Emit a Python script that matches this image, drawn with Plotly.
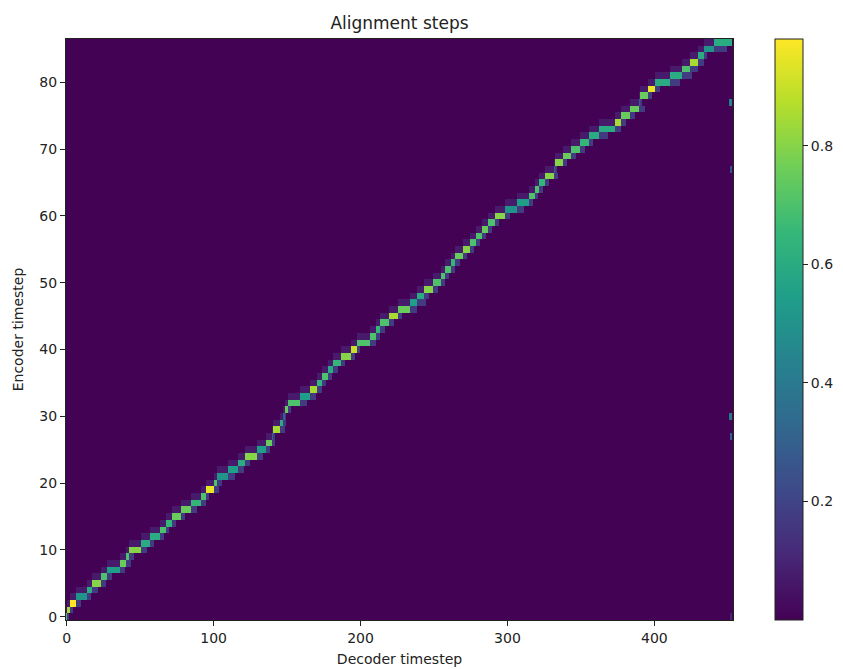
import numpy as np
import plotly.graph_objects as go

# ---- data ----
n_decoder = 454
n_encoder = 87
# per encoder step: decoder range where attention sits, its intensity, and where its faint trail ends
dec_start = [0, 1, 3, 7, 14, 18, 24, 28, 37, 41, 43, 51, 57, 64, 68, 72, 78, 85, 92, 95,
             101, 103, 110, 117, 122, 130, 136, 140, 141, 146, 148, 149, 151, 159, 166, 171, 174, 178, 182, 187,
             194, 198, 207, 211, 214, 220, 226, 234, 239, 244, 250, 255, 258, 262, 265, 270, 275, 279, 283, 287,
             292, 299, 307, 315, 319, 322, 326, 332, 333, 338, 344, 350, 356, 363, 374, 378, 384, 390, 391, 396,
             401, 411, 419, 425, 430, 434, 441]
dec_end = [0, 2, 6, 13, 17, 23, 27, 36, 40, 42, 50, 56, 63, 67, 71, 77, 84, 91, 94, 100,
           102, 109, 116, 121, 129, 135, 139, 140, 145, 147, 148, 150, 158, 165, 170, 173, 177, 181, 186, 193,
           197, 206, 210, 213, 219, 225, 233, 238, 243, 249, 254, 257, 261, 264, 269, 274, 278, 282, 286, 291,
           298, 306, 314, 318, 321, 325, 331, 332, 337, 343, 349, 355, 362, 373, 377, 383, 389, 390, 395, 400,
           410, 418, 424, 429, 433, 440, 452]
peak = [0.70, 0.85, 0.98, 0.50, 0.60, 0.80, 0.70, 0.55, 0.75, 0.70, 0.80, 0.60, 0.60, 0.70, 0.65, 0.75, 0.75, 0.65, 0.70, 0.95,
        0.70, 0.50, 0.55, 0.60, 0.80, 0.55, 0.75, 0.30, 0.85, 0.60, 0.30, 0.75, 0.70, 0.55, 0.85, 0.65, 0.70, 0.60, 0.65, 0.80,
        0.90, 0.70, 0.70, 0.65, 0.70, 0.85, 0.75, 0.55, 0.60, 0.80, 0.70, 0.70, 0.70, 0.65, 0.75, 0.80, 0.70, 0.70, 0.75, 0.70,
        0.80, 0.50, 0.55, 0.70, 0.70, 0.65, 0.80, 0.30, 0.80, 0.75, 0.70, 0.65, 0.60, 0.60, 0.85, 0.75, 0.75, 0.30, 0.75, 0.95,
        0.60, 0.60, 0.70, 0.85, 0.60, 0.50, 0.60]
trail_end = [1, 4, 9, 16, 21, 26, 30, 39, 43, 45, 54, 59, 66, 69, 74, 80, 88, 94, 96, 103,
             105, 114, 120, 124, 133, 138, 141, 141, 148, 149, 149, 152, 163, 169, 173, 176, 180, 184, 189, 196,
             199, 210, 213, 216, 222, 228, 238, 244, 246, 252, 257, 260, 264, 267, 272, 277, 281, 285, 289, 294,
             301, 311, 317, 320, 324, 328, 334, 333, 340, 346, 352, 358, 368, 377, 380, 386, 393, 391, 398, 403,
             417, 425, 429, 433, 435, 449, 452]
trail_value = 0.17
# faint lead-in on the next encoder step while the current one is attended
lead_value = 0.07
# isolated cells at the right edge: (decoder, encoder, value)
edge_dec = [451, 452, 452, 451, 452, 452, 452]
edge_enc = [77, 77, 67, 30, 30, 27, 0]
edge_val = [0.40, 0.45, 0.25, 0.35, 0.40, 0.30, 0.10]

# ---- build matrix ----
z = np.full((n_encoder, n_decoder), 0.002)
for k in range(n_encoder):
    if k + 1 < n_encoder:
        z[k + 1, dec_start[k]:dec_end[k] + 1] = np.maximum(z[k + 1, dec_start[k]:dec_end[k] + 1], lead_value)
for k in range(n_encoder):
    z[k, dec_end[k] + 1:trail_end[k] + 1] = trail_value
    z[k, dec_start[k]:dec_end[k] + 1] = peak[k]
for d, k, v in zip(edge_dec, edge_enc, edge_val):
    z[k, d] = v

fig = go.Figure(go.Heatmap(
    z=z, x=np.arange(n_decoder), y=np.arange(n_encoder),
    colorscale="Viridis", zmin=0.0, zmax=0.98, zsmooth=False,
    colorbar=dict(
        x=1.0636, xanchor="left", xpad=0, y=0.5, yanchor="middle", ypad=0,
        len=1.0, lenmode="fraction", thickness=28,
        outlinewidth=1, outlinecolor="#222",
        tickvals=[0.2, 0.4, 0.6, 0.8], ticktext=["0.2", "0.4", "0.6", "0.8"],
        ticks="outside", ticklen=5, tickcolor="#222",
        tickfont=dict(family="DejaVu Sans", size=14, color="#222"),
    ),
    hoverinfo="skip",
))

axis_common = dict(
    showgrid=False, zeroline=False, showline=True, linecolor="#222", linewidth=1,
    mirror=True, ticks="outside", ticklen=5, tickcolor="#222", automargin=False,
    tickfont=dict(family="DejaVu Sans", size=14, color="#222"),
)
fig.update_layout(
    width=843, height=669,
    margin=dict(l=66, r=110, t=39, b=49, autoexpand=False),
    paper_bgcolor="white", plot_bgcolor="white",
    title=dict(text="Alignment steps", x=(66 + 733) / 2 / 843, xanchor="center",
               y=1 - 23 / 669, yanchor="middle",
               font=dict(family="DejaVu Sans", size=17, color="#222")),
    xaxis=dict(range=[-0.5, n_decoder - 0.5], tickvals=[0, 100, 200, 300, 400],
               title=dict(text="Decoder timestep", standoff=9,
                          font=dict(family="DejaVu Sans", size=14, color="#222")),
               **axis_common),
    yaxis=dict(range=[-0.5, n_encoder - 0.5], tickvals=[0, 10, 20, 30, 40, 50, 60, 70, 80],
               title=dict(text="Encoder timestep", standoff=12,
                          font=dict(family="DejaVu Sans", size=14, color="#222")),
               **axis_common),
)
fig.write_html("out.html")
